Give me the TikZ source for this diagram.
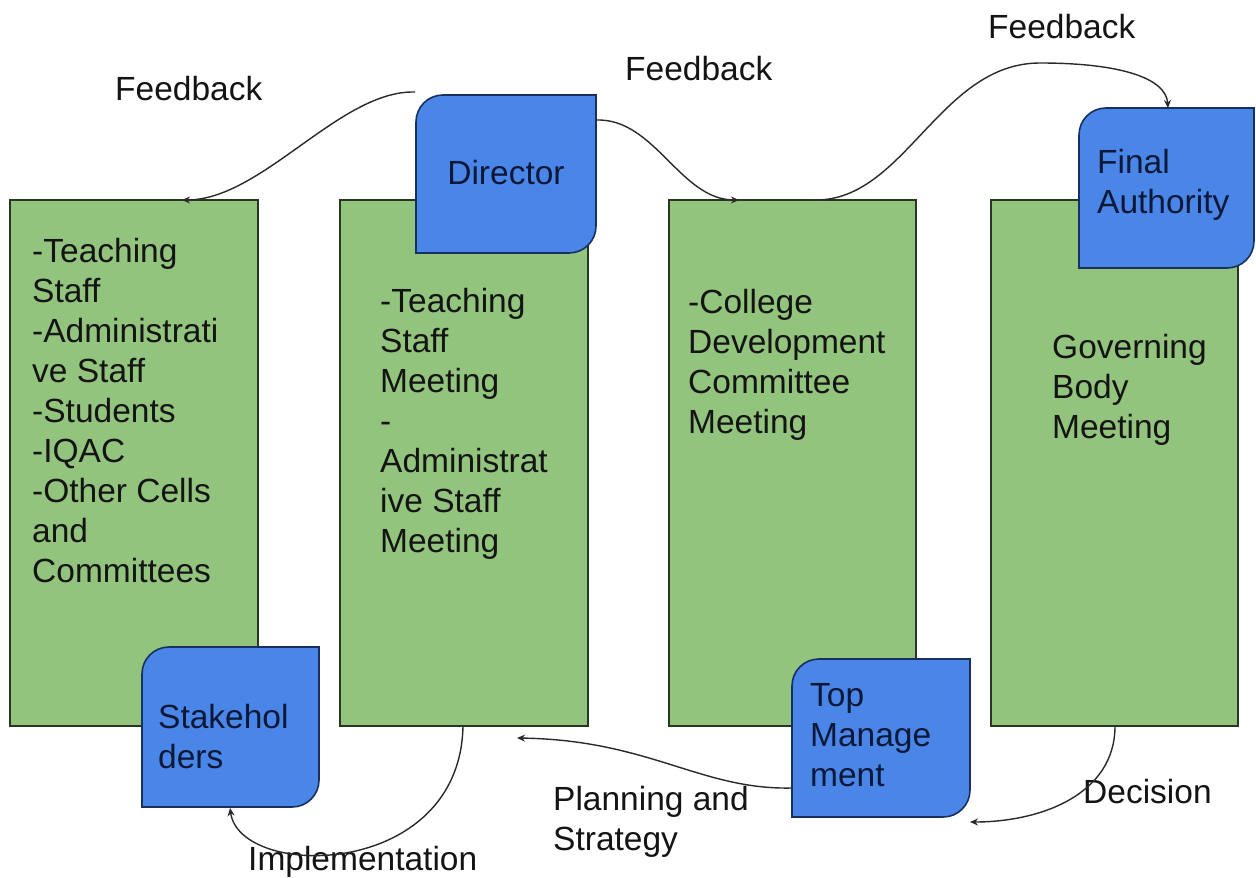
\documentclass[tikz,border=0pt]{standalone}
\usepackage{fontspec}
\setmainfont{Liberation Sans}
\usetikzlibrary{calc,arrows.meta}
\definecolor{gfill}{HTML}{93C47D}
\definecolor{gline}{HTML}{2A3624}
\definecolor{bfill}{HTML}{4A86E8}
\definecolor{bline}{HTML}{17305E}
\definecolor{btext}{HTML}{0C1838}
\definecolor{ink}{HTML}{141414}
\definecolor{conn}{HTML}{2A2A2A}
\newcommand{\fstrut}{\rule{0pt}{26pt}}
\newcommand{\diagshape}[1]{%
  \filldraw[fill=bfill, draw=bline, line width=1.6pt]
    (#1.south west) -- ($(#1.north west)+(0,27)$)
    .. controls ($(#1.north west)+(0,12)$) and ($(#1.north west)+(12,0)$) .. ($(#1.north west)+(27,0)$)
    -- (#1.north east) -- ($(#1.south east)+(0,-27)$)
    .. controls ($(#1.south east)+(0,-12)$) and ($(#1.south east)+(-12,0)$) .. ($(#1.south east)+(-27,0)$)
    -- cycle;}
\begin{document}
\begin{tikzpicture}[x=1pt,y=-1pt,
  greenbox/.style={draw=gline, fill=gfill, line width=1.3pt, minimum width=248pt,
    minimum height=526pt, anchor=north west, inner sep=0pt, outer sep=0pt},
  shapebox/.style={inner sep=0pt, outer sep=0pt, anchor=north west},
  txt/.style={font=\fontsize{33.5}{40}\selectfont, align=left, inner sep=0pt, text=ink},
  btxt/.style={txt, text=btext},
  conn/.style={draw=conn, line width=1.4pt, -{Stealth[length=8pt,width=7pt]}}
]
\useasboundingbox (0,0) rectangle (1256,878);
\fill[white] (0,0) rectangle (1256,878);

% green boxes
\node[greenbox] (b1) at (10,200) {};
\node[greenbox] (b2) at (340,200) {};
\node[greenbox, minimum width=247pt] (b3) at (669,200) {};
\node[greenbox, minimum width=247pt] (b4) at (991,200) {};

\node[txt, anchor=north west] (t1) at (32,236)
  {\fstrut-Teaching\\Staff\\-Administrati\\ve Staff\\-Students\\-IQAC\\-Other Cells\\and\\Committees};
\node[txt, anchor=north west] (t2) at (380,286)
  {\fstrut-Teaching\\Staff\\Meeting\\-\\Administrat\\ive Staff\\Meeting};
\node[txt, anchor=north west] (t3) at (688,287)
  {\fstrut-College\\Development\\Committee\\Meeting};
\node[txt, anchor=north west] (t4) at (1052,332)
  {\fstrut Governing\\Body\\Meeting};

% blue shapes
\node[shapebox, minimum width=180pt, minimum height=158pt] (dir) at (416,95) {};
\node[shapebox, minimum width=175pt, minimum height=160pt] (fa) at (1079,108) {};
\node[shapebox, minimum width=177pt, minimum height=160pt] (sh) at (142,647) {};
\node[shapebox, minimum width=178pt, minimum height=158pt] (tm) at (792,659) {};
\diagshape{dir}
\diagshape{fa}
\diagshape{sh}
\diagshape{tm}

\node[btxt, anchor=base] (tdir) at (506,184) {Director};
\node[btxt, anchor=north west] (tfa) at (1097,147) {\fstrut Final\\Authority};
\node[btxt, anchor=north west] (tsh) at (158,702) {\fstrut Stakehol\\ders};
\node[btxt, anchor=north west] (ttm) at (810,680) {\fstrut Top\\Manage\\ment};

% labels
\node[txt, anchor=base west] (l1) at (115,100) {Feedback};
\node[txt, anchor=base west] (l2) at (625,80) {Feedback};
\node[txt, anchor=base west] (l3) at (988,38) {Feedback};
\node[txt, anchor=north west] (l4) at (553,784) {\fstrut Planning and\\Strategy};
\node[txt, anchor=base west] (l5) at (1083,803) {Decision};
\node[txt, anchor=base west] (l6) at (248,870) {Implementation};

% connectors
\coordinate (pa) at (517,738);
\draw[conn] ($(dir.north west)+(-1,-3)$) .. controls (340,90) and (262,200) .. ($(b1.north west)+(172,0)$);
\draw[conn] ($(dir.north east)+(0,25)$) .. controls (655,118) and (680,200) .. ($(b3.north west)+(70,0)$);
\draw[conn] ($(b3.north west)+(147,0)$) .. controls (905,200) and (940,63) .. (1040,63)
  .. controls (1120,63) and (1166,78) .. ($(fa.north west)+(89,0)$);
\draw[conn] ($(b4.south west)+(124,0)$) .. controls (1115,795) and (1040,822) .. ($(tm.south east)+(0,5)$);
\draw[conn] ($(tm.north west)+(0,129)$) .. controls (700,790) and (650,740) .. (pa);
\draw[conn] ($(b2.south west)+(123,0)$) .. controls (460,880) and (240,880) .. ($(sh.south west)+(88,1)$);
\end{tikzpicture}
\end{document}
